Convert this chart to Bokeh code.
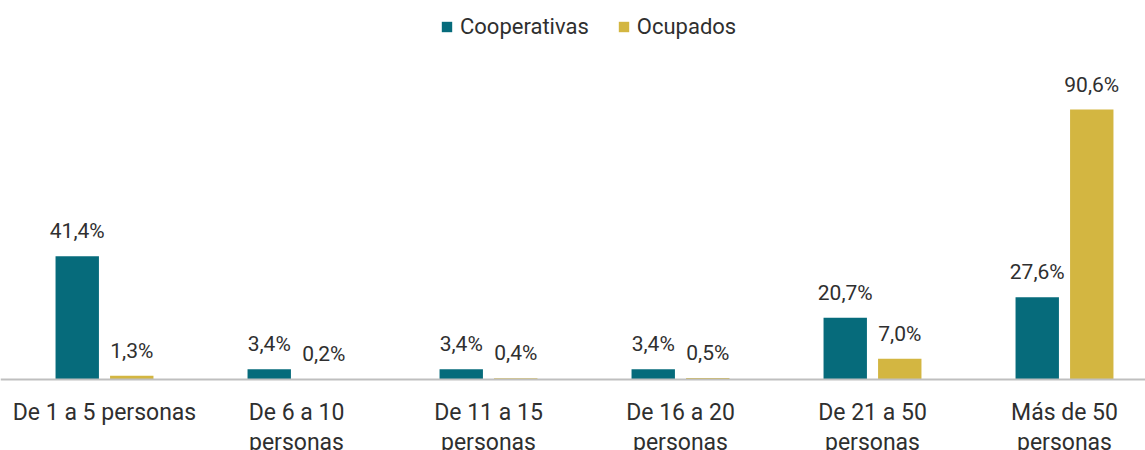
from bokeh.plotting import figure
from bokeh.models import ColumnDataSource, Range1d, Legend, LegendItem, Span
from bokeh.core.properties import value
from bokeh.embed import file_html
from bokeh.resources import INLINE

categories = ["De 1 a 5 personas", "De 6 a 10\npersonas", "De 11 a 15\npersonas",
              "De 16 a 20\npersonas", "De 21 a 50\npersonas", "Más de 50\npersonas"]
cooperativas = [41.4, 3.4, 3.4, 3.4, 20.7, 27.6]
ocupados = [1.3, 0.2, 0.4, 0.5, 7.0, 90.6]

TEAL = "#066B7B"
GOLD = "#D3B641"
TXT = "#2F2F2F"
FONT = "Roboto"

idx = list(range(len(categories)))
off = 0.142
bw = 0.226

def fmt(v):
    return f"{v:.1f}".replace(".", ",") + "%"

src_c = ColumnDataSource(dict(x=[i - off for i in idx], top=cooperativas,
                              lab=[fmt(v) for v in cooperativas]))
src_o = ColumnDataSource(dict(x=[i + off for i in idx], top=ocupados,
                              lab=[fmt(v) for v in ocupados]))
src_cat = ColumnDataSource(dict(x=idx, y=[0] * len(idx), lab=categories))

W, H = 1145, 450
PX = 2.98      # pixels per percentage point
BASE = 379     # baseline pixel row
p = figure(width=W, height=H, output_backend="svg", toolbar_location=None,
           x_range=Range1d(-104 / 192, (W - 104) / 192),
           y_range=Range1d(-(H - BASE) / PX, BASE / PX),
           min_border=0)
p.outline_line_color = None
p.xgrid.visible = False
p.ygrid.visible = False
p.xaxis.visible = False
p.yaxis.visible = False
p.background_fill_color = "white"
p.border_fill_color = "white"

p.add_layout(Span(location=0, dimension="width", line_color="#BFBFBF", line_width=2))

r1 = p.vbar(x="x", top="top", width=bw, source=src_c, color=TEAL, line_color=None)
r2 = p.vbar(x="x", top="top", width=bw, source=src_o, color=GOLD, line_color=None)

for s in (src_c, src_o):
    p.text(x="x", y="top", text="lab", source=s, text_align="center",
           text_baseline="alphabetic", y_offset=-25, text_font=value(FONT),
           text_font_size="21px", text_color=TXT)

p.text(x="x", y="y", text="lab", source=src_cat, text_align="center",
       text_baseline="top", y_offset=19, text_font=value(FONT),
       text_font_size="23px", text_color=TXT, text_line_height=1.12)

legend = Legend(items=[LegendItem(label="Cooperativas", renderers=[r1]),
                       LegendItem(label="Ocupados", renderers=[r2])],
                orientation="horizontal", location=(440, 411),
                glyph_width=13, glyph_height=13, label_standoff=7, spacing=28,
                label_text_font=FONT, label_text_font_size="22px",
                label_text_color=TXT, border_line_color=None,
                background_fill_alpha=0, margin=0, padding=4)
p.add_layout(legend)

open("out.html", "w").write(file_html(p, INLINE))
